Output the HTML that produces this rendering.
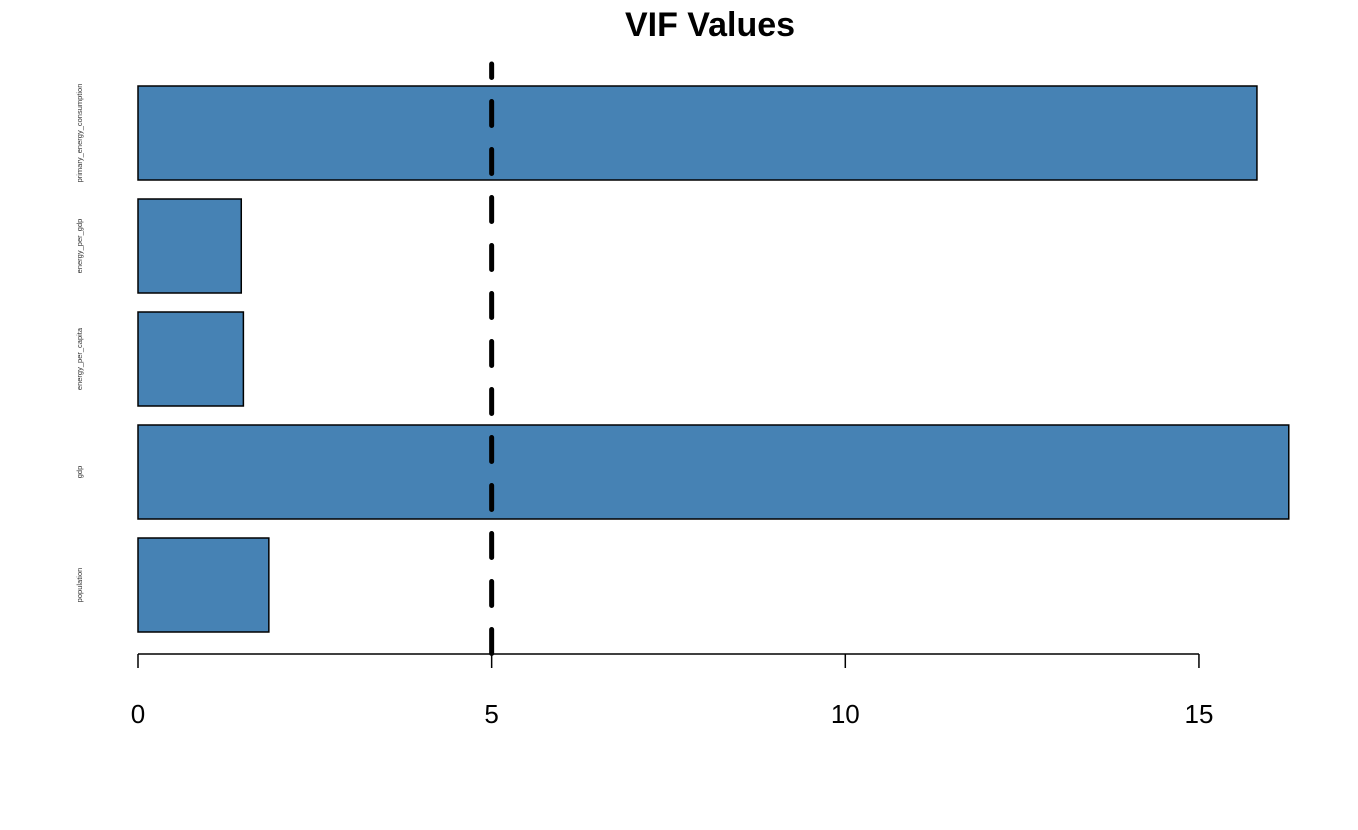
<!DOCTYPE html>
<html><head><meta charset="utf-8"><style>
body{margin:0;background:#fff;}
svg{display:block;font-family:"Liberation Sans",Arial,sans-serif;}
</style></head><body>
<svg id="chart" width="1358" height="830">
<text x="710" y="36" text-anchor="middle" font-size="34" font-weight="bold">VIF Values</text>
<g id="bars"></g>
<g id="axis"></g>
</svg>
<script>
const categories = ["population","gdp","energy_per_capita","energy_per_gdp","primary_energy_consumption"];
const vifValues = [1.85, 16.27, 1.49, 1.46, 15.82];
const tickValues = [0, 5, 10, 15];
const threshold = 5;

const NS = "http://www.w3.org/2000/svg";
const x = v => 138 + v * 70.73;
const yTop = i => 538 - i * 113;
const barH = 94;
function mk(tag, attrs, parent){const e=document.createElementNS(NS,tag);for(const k in attrs)e.setAttribute(k,attrs[k]);parent.appendChild(e);return e;}
const bars=document.getElementById('bars');
const axis=document.getElementById('axis');
categories.forEach((c,i)=>{
  const r=mk('rect',{x:x(0),y:yTop(i),width:x(vifValues[i])-x(0),height:barH,fill:'#4682b4',stroke:'#000','stroke-width':1.5},bars);
  
  
  const cy=yTop(i)+barH/2;
  const t=mk('text',{x:82,y:cy,'font-size':7.5,fill:'#333','text-anchor':'middle',transform:`rotate(-90 82 ${cy})`},bars);
  t.textContent=c;
  
  
});
const al=mk('line',{x1:x(tickValues[0]),x2:x(tickValues[tickValues.length-1]),y1:654,y2:654,stroke:'#000','stroke-width':1.5},axis);


tickValues.forEach(v=>{
  const tk=mk('line',{x1:x(v),x2:x(v),y1:654,y2:668,stroke:'#000','stroke-width':1.5},axis);
  
  
  const t=mk('text',{x:x(v),y:723,'font-size':26,'text-anchor':'middle'},axis);
  t.textContent=v;
  
  
});
const dl=mk('line',{x1:x(threshold),x2:x(threshold),y1:64,y2:655,stroke:'#000','stroke-width':5,'stroke-dasharray':'24 24','stroke-dashoffset':'-37.5','stroke-linecap':'round'},axis);


</script>
</body></html>
